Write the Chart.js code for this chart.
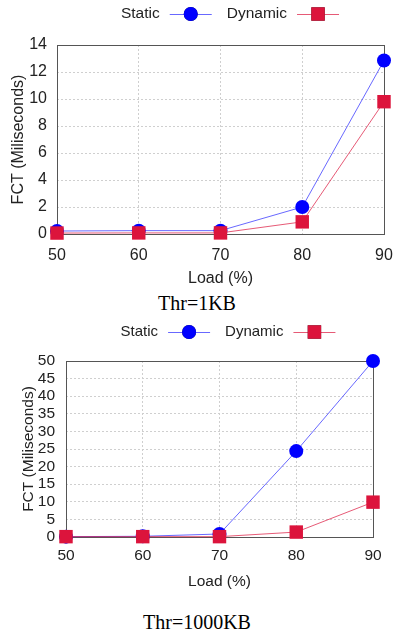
<!DOCTYPE html>
<html>
<head>
<meta charset="utf-8">
<script src="https://cdn.jsdelivr.net/npm/chart.js@4.4.0/dist/chart.umd.min.js"></script>
<style>
    body { margin: 0; background: #fff; }
    #Page { position: relative; width: 394px; height: 634px; overflow: hidden; }
    canvas { position: absolute; left: 0; }
    .Caption
    {
        position: absolute; left: 0; width: 394px; text-align: center;
        font-family: "Liberation Serif", serif; font-size: 20px; line-height: 20px; color: #000;
    }
</style>
</head>
<body>
<div id="Page">
    <canvas id="ChartCanvas1" width="394" height="290" style="top:0"></canvas>
    <div class="Caption" style="top:293px">Thr=1KB</div>
    <canvas id="ChartCanvas2" width="394" height="273" style="top:320px"></canvas>
    <div class="Caption" style="top:612px">Thr=1000KB</div>
</div>
<script>
// Load (%) on the x axis, shared by both plots
const loads = ['50', '60', '70', '80', '90'];

// Thr=1KB, FCT in milliseconds
const static1KB  = [0.22, 0.25, 0.25, 2.0, 12.85];
const dynamic1KB = [0.07, 0.08, 0.08, 0.9, 9.8];

// Thr=1000KB, FCT in milliseconds
const static1000KB  = [0.1, 0.2, 0.85, 24.4, 50.0];
const dynamic1000KB = [0.1, 0.1, 0.1, 1.4, 9.9];

const seriesNames = ['Static', 'Dynamic'];
const yTitle = 'FCT (Miliseconds)';
const xTitle = 'Load (%)';

// Box round the plot area, like gnuplot draws it
const FramePlugin =
{
    id: 'frame',
    beforeDatasetsDraw(chart)
    {
        const { ctx, chartArea: a } = chart;
        ctx.save();
        ctx.strokeStyle = '#555';
        ctx.lineWidth = 1;
        ctx.strokeRect(Math.round(a.left) + 0.5, Math.round(a.top) + 0.5,
                       Math.round(a.right - a.left), Math.round(a.bottom - a.top));
        ctx.restore();
    }
};

// Legend with the label first and then a line sample with its marker
const SampleLegendPlugin =
{
    id: 'sampleLegend',
    afterDraw(chart, args, opts)
    {
        const ctx = chart.ctx;
        const sets = chart.data.datasets;
        ctx.save();
        ctx.font = opts.fontSize + 'px "Liberation Sans"';
        ctx.textBaseline = 'middle';

        const sampleW = opts.sampleWidth, gap = 10, itemGap = 15;
        let total = 0;
        sets.forEach((ds, i) =>
        {
            total += ctx.measureText(ds.label).width + gap + sampleW + (i ? itemGap : 0);
        });

        let x = opts.centerX - total / 2;
        const y = opts.y;
        sets.forEach(ds =>
        {
            ctx.fillStyle = '#222';
            ctx.fillText(ds.label, x, y);
            x += ctx.measureText(ds.label).width + gap;

            ctx.strokeStyle = ds.borderColor;
            ctx.lineWidth = 1;
            ctx.beginPath();
            ctx.moveTo(x, y + 0.5);
            ctx.lineTo(x + sampleW, y + 0.5);
            ctx.stroke();

            Chart.helpers.drawPoint(ctx,
            {
                pointStyle: ds.pointStyle,
                radius: ds.pointRadius,
                borderWidth: 0
            }, x + sampleW / 2, y);
            ctx.fillStyle = ds.pointBackgroundColor;
            ctx.fill();

            x += sampleW + itemGap;
        });
        ctx.restore();
    }
};

class LoadChart
{
    constructor(canvasId, staticValues, dynamicValues, look)
    {
        this.look = look;
        this.DrawChart(canvasId, staticValues, dynamicValues);
    }

    MakeDataset(name, values, lineColor, pointColor, style, radius, order)
    {
        return {
            label: name,
            data: values,
            borderColor: lineColor,
            borderWidth: 1,
            pointStyle: style,
            pointRadius: radius,
            pointHoverRadius: radius,
            pointBackgroundColor: pointColor,
            pointBorderWidth: 0,
            tension: 0,
            clip: false,
            order: order
        };
    }

    DrawChart(canvasId, staticValues, dynamicValues)
    {
        const look = this.look;
        const font = { family: '"Liberation Sans"', size: look.fontSize };
        const grid = { color: '#cfcfcf', lineWidth: 1, drawTicks: false };

        new Chart(document.getElementById(canvasId),
        {
            type: 'line',
            data:
            {
                labels: loads,
                datasets:
                [
                    this.MakeDataset(seriesNames[0], staticValues, 'rgba(40,40,255,0.7)', '#0000ff', 'circle', 7, 1),
                    this.MakeDataset(seriesNames[1], dynamicValues, 'rgba(220,20,60,0.7)', '#dc143c', 'rect', 9.5, 0)
                ]
            },
            options:
            {
                responsive: false,
                devicePixelRatio: 1,
                animation: false,
                events: [],
                layout: { padding: { top: look.top, right: look.right, left: 0, bottom: 0 } },
                plugins:
                {
                    legend: { display: false },
                    tooltip: { enabled: false },
                    sampleLegend: { centerX: look.legendX, y: look.legendY, fontSize: look.legendFont, sampleWidth: 42 }
                },
                scales:
                {
                    x:
                    {
                        offset: false,
                        grid: grid,
                        border: { display: false, dash: [2, 2] },
                        ticks: { font: font, color: '#222', padding: look.xTickPad, maxRotation: 0, autoSkip: false },
                        title: { display: true, text: xTitle, font: font, color: '#222', padding: look.xTitlePad },
                        afterFit: scale =>
                        {
                            scale.height = look.xHeight;
                            // keep the plot edges where the reference has them; the end labels may stick out
                            scale.paddingLeft = 0;
                            scale.paddingRight = 0;
                        }
                    },
                    y:
                    {
                        min: 0,
                        max: look.yMax,
                        grid: grid,
                        border: { display: false, dash: [2, 2] },
                        ticks: { stepSize: look.yStep, font: font, color: '#222', padding: look.yTickPad, autoSkip: false },
                        title: { display: true, text: yTitle, font: font, color: '#222', padding: look.yTitlePad },
                        afterFit: scale =>
                        {
                            scale.width = look.yWidth;
                            scale.paddingTop = 0;
                            scale.paddingBottom = 0;
                        }
                    }
                }
            },
            plugins: [FramePlugin, SampleLegendPlugin]
        });
    }
}

new LoadChart('ChartCanvas1', static1KB, dynamic1KB,
{
    fontSize: 16, legendFont: 15.5, legendX: 230, legendY: 14,
    top: 45, right: 10, yWidth: 57, xHeight: 56,
    yMax: 14, yStep: 2, xTickPad: 12, yTickPad: 10, xTitlePad: 2, yTitlePad: 9
});

new LoadChart('ChartCanvas2', static1000KB, dynamic1000KB,
{
    fontSize: 15.5, legendFont: 15, legendX: 228, legendY: 12,
    top: 41, right: 21, yWidth: 66, xHeight: 56,
    yMax: 50, yStep: 5, xTickPad: 9, yTickPad: 11, xTitlePad: 2, yTitlePad: 19
});
</script>
</body>
</html>
